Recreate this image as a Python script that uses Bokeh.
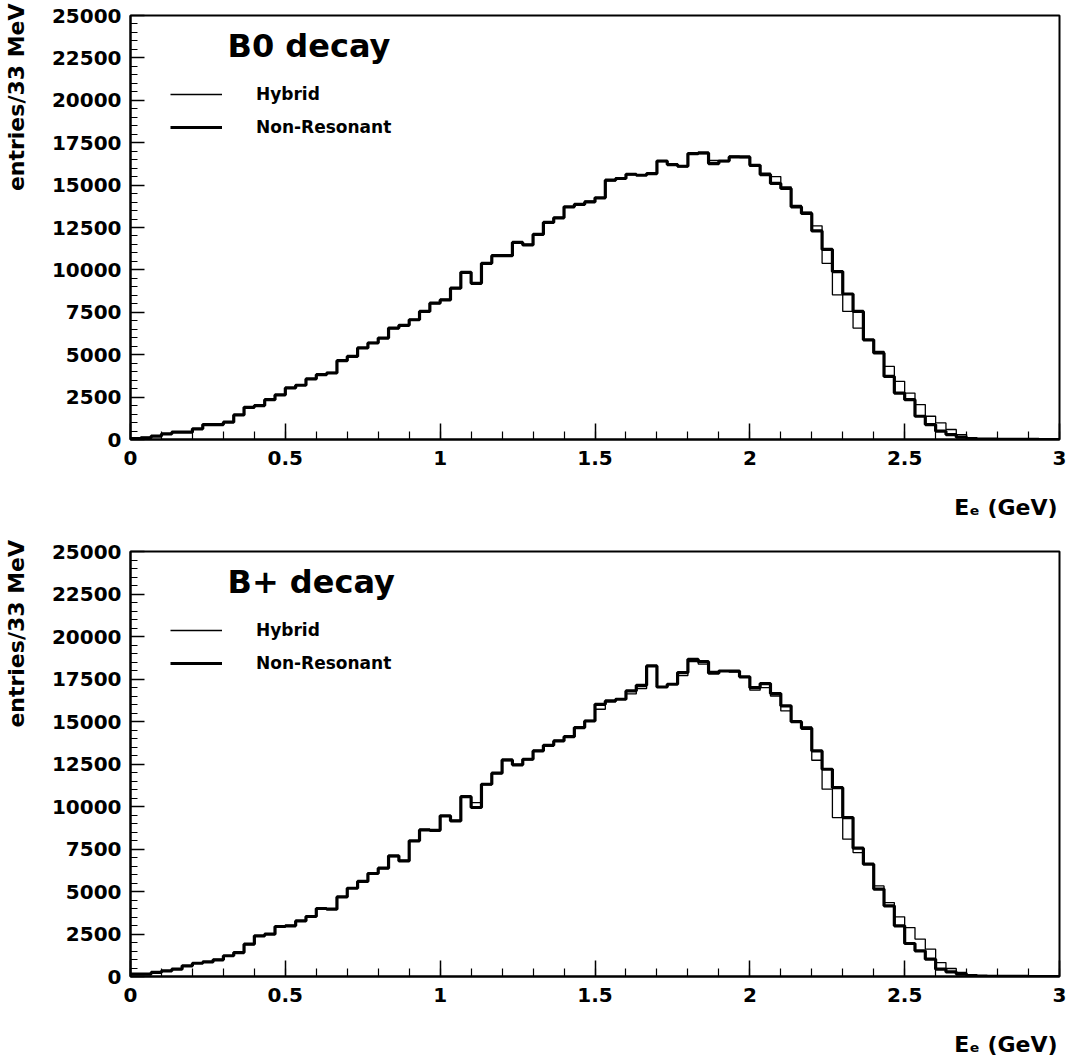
import numpy as np
from bokeh.plotting import figure
from bokeh.layouts import column
from bokeh.models import (Range1d, SingleIntervalTicker, CustomJSTickFormatter,
                          Label, Legend, LegendItem)
from bokeh.embed import file_html
from bokeh.resources import INLINE

# ---------------- data (entries per 33 MeV bin, 90 bins from 0 to 3 GeV) ----------------
n_bins = 90
e_min, e_max = 0.0, 3.0

b0_nonres = [60, 100, 200, 330, 430, 430, 630, 880, 880, 1020,
             1450, 1900, 2000, 2350, 2630, 3040, 3200, 3570, 3820, 3920,
             4650, 4900, 5400, 5690, 5980, 6570, 6730, 7060, 7550, 8040,
             8230, 8920, 9860, 9210, 10390, 10840, 10840, 11620, 11470, 12090,
             12800, 13070, 13720, 13860, 14010, 14250, 15290, 15390, 15640, 15580,
             15680, 16420, 16210, 16110, 16860, 16900, 16270, 16420, 16660, 16660,
             16170, 15620, 15100, 14800, 13720, 13330, 12300, 11210, 9900, 8580,
             7550, 5880, 5100, 3720, 2740, 2350, 1370, 880, 490, 290,
             140, 60, 30, 20, 10, 10, 5, 5, 0, 0]

b0_hybrid = [70, 120, 180, 330, 420, 450, 620, 860, 900, 1050,
             1420, 1880, 2030, 2330, 2650, 3010, 3230, 3560, 3840, 3950,
             4620, 4930, 5380, 5720, 5960, 6540, 6760, 7080, 7520, 8010,
             8260, 8900, 9800, 9240, 10360, 10870, 10800, 11580, 11500, 12060,
             12760, 13100, 13690, 13900, 14050, 14220, 15250, 15420, 15600, 15620,
             15650, 16380, 16250, 16080, 16820, 16850, 16450, 16380, 16700, 16620,
             16100, 15700, 15500, 14900, 13800, 13400, 12600, 10390, 8530, 7550,
             6570, 5880, 5200, 4310, 3430, 2740, 2060, 1370, 980, 590,
             290, 100, 50, 30, 15, 10, 5, 5, 0, 0]

bp_nonres = [140, 140, 240, 330, 430, 630, 780, 860, 980, 1220,
             1410, 1900, 2390, 2490, 2940, 2980, 3270, 3530, 4000, 3960,
             4680, 5190, 5590, 6060, 6370, 7100, 6800, 7980, 8620, 8600,
             9450, 9150, 10580, 9940, 11310, 11960, 12740, 12450, 12780, 13270,
             13600, 13860, 14110, 14640, 15030, 16010, 16210, 16310, 16800, 17130,
             18270, 17030, 17190, 17880, 18660, 18520, 17840, 17970, 17970, 17630,
             16990, 17230, 16640, 15920, 14990, 14600, 13270, 12190, 11110, 9350,
             7550, 6610, 5140, 4160, 2980, 1940, 1510, 1020, 430, 270,
             140, 60, 30, 15, 10, 5, 5, 0, 0, 0]

bp_hybrid = [120, 160, 230, 350, 420, 610, 800, 850, 1000, 1200,
             1430, 1880, 2360, 2520, 2910, 3010, 3250, 3560, 3970, 3990,
             4650, 5220, 5560, 6090, 6340, 7060, 6830, 7950, 8650, 8570,
             9420, 9180, 10540, 10230, 11280, 11930, 12700, 12480, 12750, 13300,
             13570, 13890, 14080, 14600, 15060, 15720, 16150, 16350, 16620, 16940,
             18270, 17030, 17190, 17700, 18520, 18380, 17940, 17970, 17900, 17630,
             16840, 16990, 16500, 15620, 14990, 14680, 12720, 11020, 9350, 8080,
             7290, 6610, 5330, 4350, 3510, 2880, 2200, 1610, 820, 470,
             240, 100, 50, 25, 15, 10, 5, 0, 0, 0]

panel_titles = ["B0 decay", "B+ decay"]
series_names = ["Hybrid", "Non-Resonant"]
y_label = "entries/33 MeV"
x_label = "E\u2091 (GeV)"

FONT = "DejaVu Sans"
NBSP = "\u00a0"
edges = np.linspace(e_min, e_max, n_bins + 1)


def make_panel(title, hybrid, nonres, height, top, bottom):
    left, right = 130, 11
    p = figure(width=1070, height=height, output_backend="svg", toolbar_location=None,
               x_range=Range1d(e_min, e_max), y_range=Range1d(0, 25000),
               min_border_left=left, min_border_right=right,
               min_border_top=top, min_border_bottom=bottom)
    fh = height - top - bottom
    ppx = 25000.0 / fh            # data units per vertical pixel
    xpx = 3.0 / (1070 - left - right)

    p.grid.visible = False
    p.background_fill_color = "white"
    p.border_fill_color = "white"
    p.outline_line_color = "black"
    p.outline_line_width = 2

    # axes
    xa = p.xaxis[0]
    xa.ticker = SingleIntervalTicker(interval=0.5, num_minor_ticks=5)
    xa.formatter = CustomJSTickFormatter(code="return String(Math.round(tick*10)/10)")
    ya = p.yaxis[0]
    ya.ticker = SingleIntervalTicker(interval=2500, num_minor_ticks=5)
    for ax, mj, mn, so in ((xa, 16, 8, 11), (ya, 14, 7, 9)):
        ax.axis_line_width = 2
        ax.axis_line_color = "black"
        ax.major_tick_in = mj
        ax.major_tick_out = 0
        ax.minor_tick_in = mn
        ax.minor_tick_out = 0
        ax.major_tick_line_width = 1.5
        ax.minor_tick_line_width = 1.2
        ax.major_label_text_font = FONT
        ax.major_label_text_font_style = "bold"
        ax.major_label_text_font_size = "20px"
        ax.major_label_text_color = "black"
        ax.major_label_standoff = so
        ax.axis_label_text_font = FONT
        ax.axis_label_text_font_style = "bold"
        ax.axis_label_text_font_size = "22px"
        ax.axis_label_text_color = "black"

    # x title: right-aligned at the end of the axis (label centred on the axis end,
    # padded with no-break spaces so that the visible text ends at the frame edge)
    try:
        xa.axis_label_align = "end"
    except Exception:
        xa.axis_label_align = "right"
    xa.axis_label = x_label + NBSP * 14
    xa.axis_label_standoff = 27

    # y title: top-aligned (centred label, leading no-break spaces push it to the top)
    n_pad = int(round((fh + 14 - 178) / 7.66))
    ya.axis_label = NBSP * n_pad + y_label
    ya.axis_label_standoff = 20

    # histograms
    y_nr = list(nonres) + [nonres[-1]]
    y_hy = list(hybrid) + [hybrid[-1]]
    r_nr = p.step(edges, y_nr, mode="after", line_color="black", line_width=3.2)
    r_hy = p.step(edges, y_hy, mode="after", line_color="black", line_width=1.3)

    # legend
    leg = Legend(items=[LegendItem(label=series_names[0], renderers=[r_hy]),
                        LegendItem(label=series_names[1], renderers=[r_nr])],
                 location=(40, fh - 122), padding=0, margin=0, spacing=13,
                 glyph_width=52, glyph_height=20, label_height=20, label_standoff=34,
                 border_line_alpha=0, background_fill_alpha=0,
                 label_text_font=FONT, label_text_font_style="bold",
                 label_text_color="black", label_text_font_size="17px")
    p.add_layout(leg)

    # panel title
    p.add_layout(Label(x=97 * xpx, y=25000 - 30 * ppx, text=title,
                       text_font=FONT, text_font_style="bold", text_font_size="32px",
                       text_align="left", text_baseline="middle", text_color="black"))
    return p


p1 = make_panel(panel_titles[0], b0_hybrid, b0_nonres, 535, 15, 96)
p2 = make_panel(panel_titles[1], bp_hybrid, bp_nonres, 526, 16, 85)

layout = column(p1, p2, spacing=0)
open("out.html", "w").write(file_html(layout, INLINE))
